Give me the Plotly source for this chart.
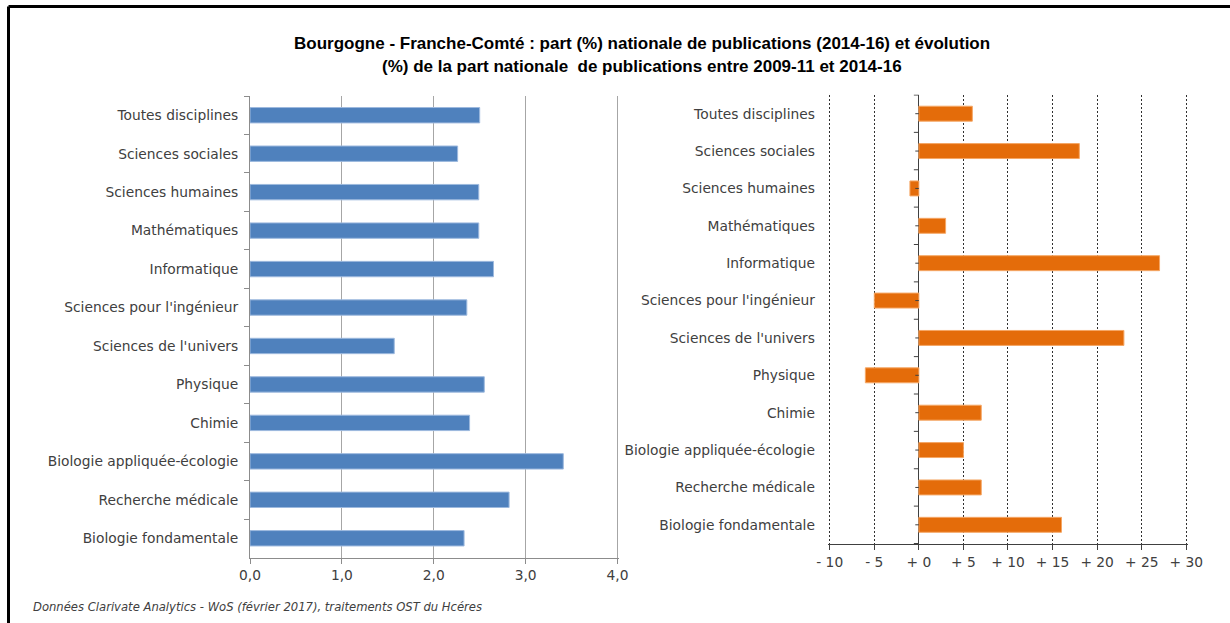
import plotly.graph_objects as go

categories = ["Toutes disciplines", "Sciences sociales", "Sciences humaines", "Mathématiques",
              "Informatique", "Sciences pour l'ingénieur", "Sciences de l'univers", "Physique",
              "Chimie", "Biologie appliquée-écologie", "Recherche médicale", "Biologie fondamentale"]
part_nationale = [2.50, 2.26, 2.49, 2.49, 2.65, 2.36, 1.57, 2.55, 2.39, 3.41, 2.82, 2.33]
evolution = [6, 18, -1, 3, 27, -5, 23, -6, 7, 5, 7, 16]

left_ticks = [0, 1, 2, 3, 4]
left_ticktext = ["0,0", "1,0", "2,0", "3,0", "4,0"]
right_ticks = [-10, -5, 0, 5, 10, 15, 20, 25, 30]
right_ticktext = ["- 10", "- 5", "+ 0", "+ 5", "+ 10", "+ 15", "+ 20", "+ 25", "+ 30"]

title_1 = "Bourgogne - Franche-Comté : part (%) nationale de publications (2014-16) et évolution"
title_2 = "(%) de la part nationale  de publications entre 2009-11 et 2014-16"
source = "Données Clarivate Analytics - WoS (février 2017), traitements OST du Hcéres"

W, H = 1230, 623
def px(x): return x / W
def py(y): return 1 - y / H

FONT = "DejaVu Sans"
TXT = "#404040"

fig = go.Figure()
fig.add_trace(go.Bar(
    y=categories, x=part_nationale, orientation="h",
    marker=dict(color="#4F81BD", line=dict(color="#9DB9DE", width=1)),
    xaxis="x", yaxis="y", showlegend=False, hoverinfo="x+y"))
fig.add_trace(go.Bar(
    y=categories, x=evolution, orientation="h",
    marker=dict(color="#E46C0A", line=dict(color="#F5A765", width=1)),
    xaxis="x2", yaxis="y2", showlegend=False, hoverinfo="x+y"))

tickfont = dict(family=FONT, size=13.8, color=TXT)

# small range padding so the edge gridlines (4,0 / -10 / +30) are still drawn
LPAD = 0.015
RPAD = 0.2
L_PX = 91.75
R_PX = 8.917

fig.update_layout(
    width=W, height=H,
    margin=dict(l=0, r=0, t=0, b=0, autoexpand=False),
    paper_bgcolor="white", plot_bgcolor="white",
    bargap=0.6,
    xaxis=dict(domain=[px(250), px(617.5 + LPAD * L_PX)], anchor="y", range=[0, 4 + LPAD], automargin=False,
               tickvals=left_ticks, ticktext=left_ticktext,
               showgrid=True, gridcolor="#a6a6a6", gridwidth=1,
               showline=True, linecolor="#8c8c8c", linewidth=1,
               ticks="outside", ticklen=5, tickcolor="#8c8c8c",
               zeroline=False, tickfont=tickfont, fixedrange=True),
    yaxis=dict(domain=[py(557.5), py(96)], anchor="x", autorange="reversed", automargin=False,
               type="category", tickson="boundaries",
               showline=True, linecolor="#8c8c8c", linewidth=1,
               ticks="outside", ticklen=5, tickcolor="#8c8c8c",
               showgrid=False, tickfont=tickfont, ticklabelstandoff=8),
    xaxis2=dict(domain=[px(829.7 - RPAD * R_PX), px(1186.3 + RPAD * R_PX)], anchor="y2",
                range=[-10 - RPAD, 30 + RPAD], automargin=False,
                tickvals=right_ticks, ticktext=right_ticktext,
                showgrid=True, gridcolor="#303030", gridwidth=1, griddash="2px,2px",
                showline=True, linecolor="#404040", linewidth=1,
                ticks="outside", ticklen=5, tickcolor="#404040",
                zeroline=True, zerolinecolor="#404040", zerolinewidth=1,
                tickfont=tickfont, fixedrange=True),
    yaxis2=dict(domain=[py(544), py(94.5)], anchor="x2", autorange="reversed", automargin=False,
                type="category", showline=False, ticks="",
                showgrid=False, tickfont=tickfont, ticklabelstandoff=12),
)

shapes = []
# frame (left + top lines)
shapes.append(dict(type="line", xref="paper", yref="paper", x0=px(8.5), x1=px(1232), y0=py(6.5), y1=py(6.5),
                   line=dict(color="black", width=3)))
shapes.append(dict(type="line", xref="paper", yref="paper", x0=px(8.5), x1=px(8.5), y0=py(6.5), y1=py(630),
                   line=dict(color="black", width=3)))
# right y-axis tick marks at the zero line
n = len(categories)
for i in range(n + 1):
    shapes.append(dict(type="line", xref="x2", yref="y2", x0=-0.56, x1=0, y0=i - 0.5, y1=i - 0.5,
                       line=dict(color="#404040", width=1)))
for i in range(n):
    shapes.append(dict(type="line", xref="x2", yref="y2", x0=-0.4, x1=0, y0=i, y1=i,
                       line=dict(color="#404040", width=1)))
fig.update_layout(shapes=shapes)

TITLE_FONT = dict(family="Liberation Sans Narrow, Arial Narrow, Liberation Sans", size=17, color="black")
fig.add_annotation(x=px(642), y=py(43), xref="paper", yref="paper", text="<b>" + title_1 + "</b>",
                   showarrow=False, font=TITLE_FONT, xanchor="center", yanchor="middle")
fig.add_annotation(x=px(642), y=py(66), xref="paper", yref="paper", text="<b>" + title_2 + "</b>",
                   showarrow=False, font=TITLE_FONT, xanchor="center", yanchor="middle")
fig.add_annotation(x=px(31), y=py(607), xref="paper", yref="paper", text="<i>" + source + "</i>",
                   showarrow=False, font=dict(family=FONT, size=11.6, color=TXT),
                   xanchor="left", yanchor="middle")

fig.write_html("out.html")
